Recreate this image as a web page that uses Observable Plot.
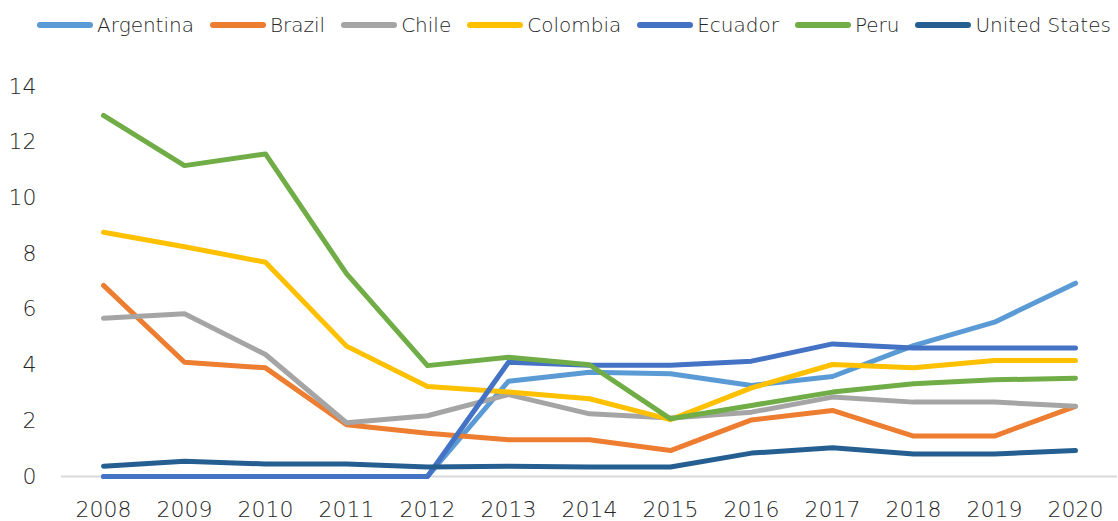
<!DOCTYPE html>
<html>
<head>
<meta charset="utf-8">
<script src="https://cdn.jsdelivr.net/npm/d3@7"></script>
<script src="https://cdn.jsdelivr.net/npm/@observablehq/plot@0.6"></script>
<style>
  html, body { margin: 0; padding: 0; background: #fff; }
  body { width: 1118px; height: 521px; overflow: hidden; font-family: "DejaVu Sans", sans-serif; }
  #legend { height: 50px; display: flex; justify-content: center; align-items: center; gap: 16px; font-size: 20px; font-weight: 200; color: #262626; padding-left: 30px; box-sizing: border-box; }
  .item { display: flex; align-items: center; gap: 4px; white-space: nowrap; }
  .item svg { display: block; }
  #chart svg { display: block; }
</style>
</head>
<body>
<div id="legend"></div>
<div id="chart"></div>
<script>
const years = [2008, 2009, 2010, 2011, 2012, 2013, 2014, 2015, 2016, 2017, 2018, 2019, 2020];
const seriesNames = ["Argentina", "Brazil", "Chile", "Colombia", "Ecuador", "Peru", "United States"];
const seriesColors = ["#5B9BD5", "#ED7D31", "#A5A5A5", "#FFC000", "#4472C4", "#70AD47", "#255E91"];

const argentina = [0, 0, 0, 0, 0, 3.42, 3.74, 3.69, 3.27, 3.59, 4.70, 5.54, 6.94];
const brazil    = [6.86, 4.10, 3.90, 1.86, 1.55, 1.32, 1.32, 0.93, 2.03, 2.37, 1.45, 1.45, 2.52];
const chile     = [5.68, 5.84, 4.38, 1.93, 2.18, 2.94, 2.25, 2.10, 2.31, 2.85, 2.67, 2.67, 2.52];
const colombia  = [8.77, 8.25, 7.69, 4.68, 3.23, 3.03, 2.79, 2.04, 3.18, 4.02, 3.90, 4.16, 4.16];
const ecuador   = [0, 0, 0, 0, 0, 4.10, 3.99, 3.99, 4.14, 4.76, 4.61, 4.61, 4.61];
const peru      = [12.96, 11.16, 11.58, 7.28, 3.98, 4.28, 4.01, 2.07, 2.55, 3.03, 3.33, 3.47, 3.53];
const unitedStates = [0.37, 0.55, 0.45, 0.45, 0.34, 0.37, 0.34, 0.34, 0.84, 1.03, 0.81, 0.81, 0.93];

const yTicks = [0, 2, 4, 6, 8, 10, 12, 14];

const allValues = [argentina, brazil, chile, colombia, ecuador, peru, unitedStates];
const data = [];
seriesNames.forEach((name, i) => {
  years.forEach((yr, j) => data.push({series: name, year: yr, value: allValues[i][j]}));
});

// Legend
const legend = document.getElementById("legend");
seriesNames.forEach((name, i) => {
  const item = document.createElement("div");
  item.className = "item";
  item.innerHTML = `<svg width="56" height="10"><line x1="3" y1="5" x2="53" y2="5" stroke="${seriesColors[i]}" stroke-width="6" stroke-linecap="round"/></svg><span>${name}</span>`;
  legend.appendChild(item);
});

const chart = Plot.plot({
  width: 1118,
  height: 471,
  marginLeft: 61,
  marginRight: 1,
  marginTop: 36,
  marginBottom: 45,
  style: { fontFamily: "DejaVu Sans, sans-serif", fontSize: "22px", fontWeight: 200, color: "#262626", background: "#fff" },
  x: { type: "point", domain: years, padding: 0.5 },
  y: { domain: [0, 14] },
  color: { domain: seriesNames, range: seriesColors },
  marks: [
    Plot.ruleY([0], { stroke: "#d9d9d9", strokeWidth: 2 }),
    Plot.line(data, {
      x: "year", y: "value", z: "series", stroke: "series",
      strokeWidth: 5, strokeLinejoin: "round", strokeLinecap: "round"
    }),
    Plot.axisX({ tickSize: 0, tickPadding: 25, tickFormat: d => String(d), label: null, fill: "#262626" }),
    Plot.axisY({ ticks: yTicks, tickSize: 0, tickPadding: 25, label: null, fill: "#262626" })
  ]
});
document.getElementById("chart").appendChild(chart);
</script>
</body>
</html>
